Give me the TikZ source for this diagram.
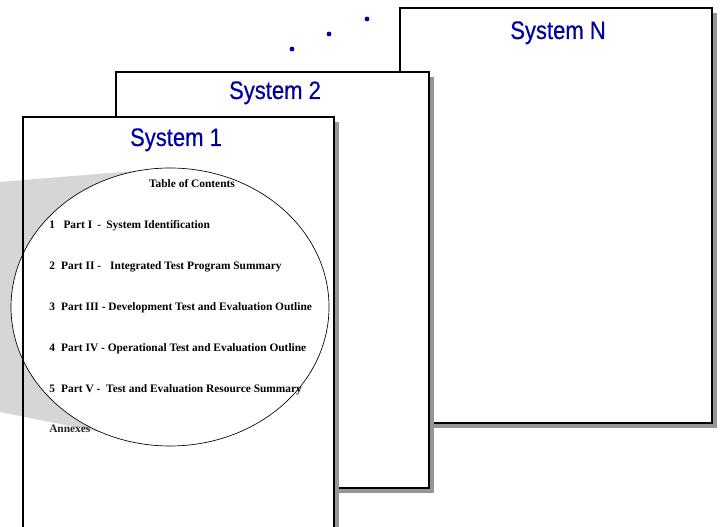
\documentclass[tikz,border=0pt]{standalone}
\usepackage{fontspec}
\setmainfont{Liberation Serif}
\newfontfamily\titlefont{Liberation Sans}[FakeStretch=0.87,FakeBold=0.4]
\definecolor{titleblue}{RGB}{0,0,160}
\definecolor{shadowgray}{RGB}{150,150,150}
\definecolor{wedgegray}{RGB}{214,214,214}
\newcommand\tocfont{\bfseries\fontsize{8.55}{10}\selectfont}
\tikzset{
  pageframe/.style={draw=black, line width=1.4pt},
  pagefill/.style={fill=white},
  pageshadow/.style={fill=shadowgray},
  pagetitle/.style={font=\titlefont\fontsize{19}{22}\selectfont, text=titleblue, anchor=base, inner sep=0pt},
  tocline/.style={font=\tocfont, anchor=base west, inner sep=0pt},
  dotmark/.style={fill=titleblue}
}
\begin{document}
\begin{tikzpicture}[x=0.75pt,y=-0.75pt]
\useasboundingbox (0,0) rectangle (722,527);
\clip (0,0) rectangle (722,527);

% continuation dots
\fill[dotmark] (292,49) circle (2.4);
\fill[dotmark] (329,34) circle (2.4);
\fill[dotmark] (367,19) circle (2.4);

% page N
\fill[pageshadow] (405,13) rectangle (717,428);
\filldraw[pagefill,pageframe] (400,8) rectangle (712,423);
\node[pagetitle] (titleN) at (558,39) {System N};

% page 2
\fill[pageshadow] (121,77) rectangle (434,493);
\filldraw[pagefill,pageframe] (116,72) rectangle (429,488);
\node[pagetitle] (title2) at (275,99) {System 2};

% page 1
\fill[pageshadow] (28,122) rectangle (339,560);
\fill[pagefill] (23,117) rectangle (334,555);

% magnifier cone and lens
\fill[wedgegray] (0,182) -- (170,168) -- (170,446) -- (0,412) -- cycle;
\fill[white] (170,307) ellipse [x radius=159, y radius=139];
\draw[pageframe] (23,117) rectangle (334,555);
\draw[line width=0.5pt] (170,307) ellipse [x radius=159, y radius=139];

\node[pagetitle] (title1) at (176,146) {System 1};

% table of contents
\node[font=\tocfont, anchor=base, inner sep=0pt] (toc) at (192,188) {Table of Contents};
\node[tocline] (p1) at (49,229) {1\hspace{0.75em}Part I\hspace{0.45em}-\hspace{0.45em}System Identification};
\node[tocline] (p2) at (49,270) {2\hspace{0.55em}Part II -\hspace{0.8em}Integrated Test Program Summary};
\node[tocline] (p3) at (49,311) {3\hspace{0.55em}Part III - Development Test and Evaluation Outline};
\node[tocline] (p4) at (49,352) {4\hspace{0.55em}Part IV - Operational Test and Evaluation Outline};
\node[tocline] (p5) at (49,393) {5\hspace{0.55em}Part V -\hspace{0.5em}Test and Evaluation Resource Summary};
\node[tocline, text=black!85] (annex) at (49,433) {Annexes};
\end{tikzpicture}
\end{document}
